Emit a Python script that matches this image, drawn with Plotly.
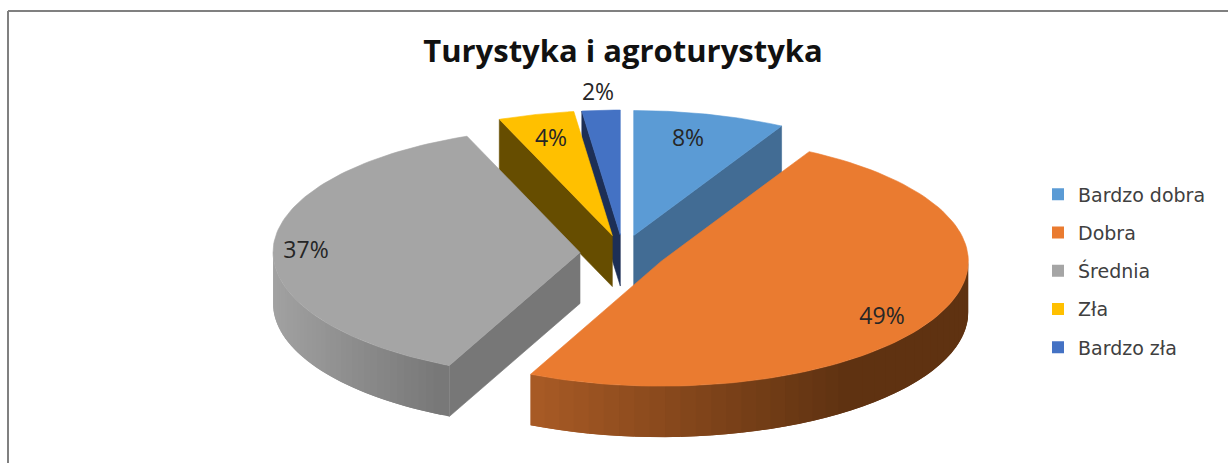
import numpy as np
import plotly.graph_objects as go

categories = ["Bardzo dobra", "Dobra", "Średnia", "Zła", "Bardzo zła"]
values = [8, 49, 37, 4, 2]
face_colors = ["#5B9BD5", "#EA7B30", "#A5A5A5", "#FFC000", "#4472C4"]
wall_colors = ["#426C94", "#5F3211", "#777777", "#664D00", "#1D2F56"]
wall_light = ["#426C94", "#AC5D26", "#A2A2A2", "#664D00", "#1D2F56"]
label_x = [688, 882, 306, 551, 598]
label_y = [140, 318, 252, 140, 94]

# pie geometry, in the 1228x463 picture's axis units
CX, CY, RX, RY = 623, 253, 307, 125
EX, EY, DEPTH = 43, 18, 51
DRAW_ORDER = [0, 4, 3, 2, 1]


def hex_mix(a, b, t):
    ca = [int(a[i:i + 2], 16) for i in (1, 3, 5)]
    cb = [int(b[i:i + 2], 16) for i in (1, 3, 5)]
    return "#" + "".join(f"{round(x + (y - x) * t):02x}" for x, y in zip(ca, cb))


def polar(cx, cy, deg):
    r = np.radians(deg)
    return cx + RX * np.sin(r), cy - RY * np.cos(r)


def poly(fig, xs, ys, color, width=0.6):
    fig.add_trace(go.Scatter(
        x=list(xs), y=list(ys), mode="lines", fill="toself", fillcolor=color,
        line=dict(color=color, width=width), hoverinfo="skip", showlegend=False))


fig = go.Figure()

total = sum(values)
edges = np.concatenate([[0], np.cumsum(values)]) / total * 360
for i in DRAW_ORDER:
    a, b = edges[i], edges[i + 1]
    mid = np.radians((a + b) / 2)
    cx = CX + EX * np.sin(mid)
    cy = CY - EY * np.cos(mid)

    # radial cut walls that face the viewer
    for ang, visible in ((a, np.sin(np.radians(a)) < -1e-9),
                         (b, np.sin(np.radians(b)) > 1e-9)):
        if visible:
            px, py = polar(cx, cy, ang)
            poly(fig, [cx, px, px, cx, cx], [cy, py, py + DEPTH, cy + DEPTH, cy], wall_colors[i])

    # outer rim wall, shaded in overlapping strips from light (left) to dark
    lo, hi = max(a, 90), min(b, 270)
    if hi > lo:
        steps = np.linspace(lo, hi, 41)
        xmin = polar(cx, cy, hi)[0]
        xmax = polar(cx, cy, lo)[0]
        # start at the far end of the arc so each strip lies over the last one
        for k in range(len(steps) - 2, -1, -1):
            s, e = steps[k], steps[min(k + 2, len(steps) - 1)]
            arc = np.linspace(s, e, 6)
            ax, ay = polar(cx, cy, arc)
            t = (polar(cx, cy, (steps[k] + steps[k + 1]) / 2)[0] - xmin) / (xmax - xmin)
            t = min(1, t / 0.75) if i == 1 else t
            col = hex_mix(wall_light[i], wall_colors[i], t)
            poly(fig, np.r_[ax, ax[::-1], ax[0]],
                 np.r_[ay, ay[::-1] + DEPTH, ay[0]], col, width=0)

    # top face
    arc = np.linspace(a, b, 100)
    ax, ay = polar(cx, cy, arc)
    poly(fig, np.r_[cx, ax, cx], np.r_[cy, ay, cy], face_colors[i])

# legend entries
for name, color in zip(categories, face_colors):
    fig.add_trace(go.Scatter(
        x=[None], y=[None], mode="markers", name=name, legendgroup=name,
        marker=dict(symbol="square", size=12, color=color)))

# percent labels
fig.add_trace(go.Scatter(
    x=label_x, y=label_y, mode="text", text=[f"{v}%" for v in values],
    textposition="middle center", hoverinfo="skip", showlegend=False,
    textfont=dict(family="Open Sans", size=23, color="#262626")))

fig.update_layout(
    width=1228, height=463, autosize=False,
    margin=dict(l=0, r=0, t=0, b=0),
    paper_bgcolor="white", plot_bgcolor="white",
    xaxis=dict(range=[0, 1228], visible=False, fixedrange=True),
    yaxis=dict(range=[463, 0], visible=False, fixedrange=True),
    title=dict(text="<b>Turystyka i agroturystyka</b>", x=623 / 1228, xanchor="center",
               y=1 - 51 / 463, yanchor="middle",
               font=dict(family="Open Sans", size=31, color="#111111")),
    legend=dict(x=1038 / 1228, xanchor="left", y=1 - 175.5 / 463, yanchor="top",
                bgcolor="rgba(0,0,0,0)", tracegroupgap=10.5, itemwidth=30,
                font=dict(family="DejaVu Sans", size=19, color="#404040")),
    shapes=[
        dict(type="line", xref="x", yref="y", x0=8, x1=8, y0=11, y1=463,
             line=dict(color="#808080", width=2)),
        dict(type="line", xref="x", yref="y", x0=8, x1=1228, y0=11, y1=11,
             line=dict(color="#808080", width=2)),
    ],
)

fig.write_html("out.html", post_script="document.body.style.margin='0';",
               config=dict(displayModeBar=False))
